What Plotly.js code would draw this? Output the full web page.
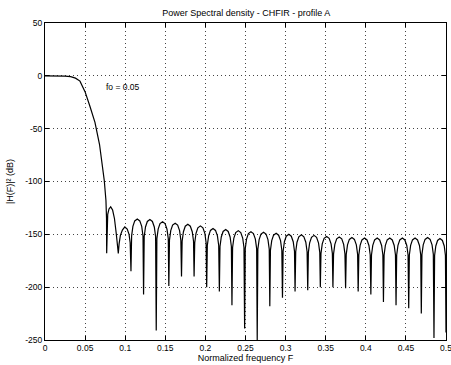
<!DOCTYPE html>
<html>
<head>
<meta charset="utf-8">
<script src="https://cdn.plot.ly/plotly-3.0.1.min.js"></script>
<style>html,body{margin:0;padding:0;background:#fff;}#chart{width:451px;height:365px;}</style>
</head>
<body>
<div id="chart"></div>
<script>
// Normalized frequency F
const freq = [
  0, 0.015, 0.025, 0.032, 0.038, 0.0436, 0.0499, 0.0561, 0.0623, 0.068, 0.0739, 0.076, 0.0767, 0.0769,
  0.0773, 0.0782, 0.0798, 0.0819, 0.0843, 0.0866, 0.0888, 0.0904, 0.0914,
  0.0924, 0.0940, 0.0965, 0.0995, 0.1025, 0.1048, 0.1062, 0.1068,
  0.1072, 0.1080, 0.1096, 0.1119, 0.1151, 0.1182, 0.1206, 0.1222,
  0.1229, 0.1237, 0.1253, 0.1276, 0.1308, 0.1339, 0.1363, 0.1379,
  0.1387, 0.1395, 0.1411, 0.1434, 0.1466, 0.1497, 0.1521, 0.1537,
  0.1544, 0.1552, 0.1568, 0.1591, 0.1623, 0.1654, 0.1678, 0.1694,
  0.1702, 0.1710, 0.1726, 0.1749, 0.1781, 0.1812, 0.1836, 0.1852,
  0.1859, 0.1867, 0.1883, 0.1906, 0.1938, 0.1969, 0.1993, 0.2009,
  0.2016, 0.2024, 0.2040, 0.2063, 0.2095, 0.2126, 0.2150, 0.2166,
  0.2174, 0.2182, 0.2198, 0.2221, 0.2253, 0.2284, 0.2308, 0.2324,
  0.2331, 0.2339, 0.2355, 0.2378, 0.2410, 0.2441, 0.2465, 0.2481,
  0.2489, 0.2497, 0.2513, 0.2536, 0.2568, 0.2599, 0.2623, 0.2639,
  0.2646, 0.2654, 0.2670, 0.2693, 0.2725, 0.2756, 0.2780, 0.2796,
  0.2803, 0.2811, 0.2827, 0.2850, 0.2882, 0.2913, 0.2937, 0.2953,
  0.2961, 0.2969, 0.2985, 0.3008, 0.3040, 0.3071, 0.3095, 0.3111,
  0.3118, 0.3126, 0.3142, 0.3165, 0.3197, 0.3228, 0.3252, 0.3268,
  0.3276, 0.3284, 0.3300, 0.3323, 0.3355, 0.3386, 0.3410, 0.3426,
  0.3433, 0.3441, 0.3457, 0.3480, 0.3512, 0.3543, 0.3567, 0.3583,
  0.3590, 0.3598, 0.3614, 0.3637, 0.3669, 0.3700, 0.3724, 0.3740,
  0.3748, 0.3756, 0.3772, 0.3795, 0.3827, 0.3858, 0.3882, 0.3898,
  0.3905, 0.3913, 0.3929, 0.3952, 0.3984, 0.4015, 0.4039, 0.4055,
  0.4063, 0.4071, 0.4087, 0.4110, 0.4142, 0.4173, 0.4197, 0.4213,
  0.4220, 0.4228, 0.4244, 0.4267, 0.4299, 0.4330, 0.4354, 0.4370,
  0.4377, 0.4385, 0.4401, 0.4424, 0.4456, 0.4487, 0.4511, 0.4527,
  0.4535, 0.4543, 0.4559, 0.4582, 0.4614, 0.4645, 0.4669, 0.4685,
  0.4692, 0.4700, 0.4716, 0.4739, 0.4771, 0.4802, 0.4826, 0.4842,
  0.4850, 0.4858, 0.4873, 0.4895, 0.4925, 0.4955, 0.4978, 0.4993,
  0.5000
];
// |H(F)|^2 in dB
const psdDb = [
  0, 0, -0.2, -0.8, -2.2, -5, -15, -29, -44, -65, -99, -118, -135, -168,
  -145, -131, -126, -124, -127, -135, -149, -161, -168,
  -159, -151, -146, -143, -145, -150, -158, -168,
  -185, -151.5, -142.5, -137.3, -135.5, -137.3, -142.5, -151.5,
  -207, -152, -143, -137.8, -136, -137.8, -143, -152,
  -241, -154, -145, -139.8, -138, -139.8, -145, -154,
  -199, -155.5, -146.5, -141.3, -139.5, -141.3, -146.5, -155.5,
  -190, -156.5, -147.5, -142.3, -140.5, -142.3, -147.5, -156.5,
  -190, -158, -149, -143.8, -142, -143.8, -149, -158,
  -200, -160.5, -151.5, -146.3, -144.5, -146.3, -151.5, -160.5,
  -204, -161.5, -152.5, -147.3, -145.5, -147.3, -152.5, -161.5,
  -217, -162.5, -153.5, -148.3, -146.5, -148.3, -153.5, -162.5,
  -239, -163.5, -154.5, -149.3, -147.5, -149.3, -154.5, -163.5,
  -250, -164, -155, -149.8, -148, -149.8, -155, -164,
  -218, -165, -156, -150.8, -149, -150.8, -156, -165,
  -210, -166, -157, -151.8, -150, -151.8, -157, -166,
  -204, -166.5, -157.5, -152.3, -150.5, -152.3, -157.5, -166.5,
  -203, -167, -158, -152.8, -151, -152.8, -158, -167,
  -200, -168, -159, -153.8, -152, -153.8, -159, -168,
  -200, -168.5, -159.5, -154.3, -152.5, -154.3, -159.5, -168.5,
  -201, -169, -160, -154.8, -153, -154.8, -160, -169,
  -204, -169.5, -160.5, -155.3, -153.5, -155.3, -160.5, -169.5,
  -207, -169.5, -160.5, -155.3, -153.5, -155.3, -160.5, -169.5,
  -214, -169.5, -160.5, -155.3, -153.5, -155.3, -160.5, -169.5,
  -217, -169.5, -160.5, -155.3, -153.5, -155.3, -160.5, -169.5,
  -220, -169.5, -160.5, -155.3, -153.5, -155.3, -160.5, -169.5,
  -225, -169, -160, -154.8, -153, -154.8, -160, -169,
  -248, -170, -161, -155.8, -154, -155.8, -161, -170,
  -243
];
const xTickVals = [0, 0.05, 0.1, 0.15, 0.2, 0.25, 0.3, 0.35, 0.4, 0.45, 0.5];
const xTickText = ["0", "0.05", "0.1", "0.15", "0.2", "0.25", "0.3", "0.35", "0.4", "0.45", "0.5"];
const yTickVals = [-250, -200, -150, -100, -50, 0, 50];
const yTickText = ["-250", "-200", "-150", "-100", "-50", "0", "50"];
const annotationText = "fo = 0.05";
const annotationX = 0.0736;
const annotationY = -10.5;

const font = "Liberation Sans, Arial, Helvetica, sans-serif";

const trace = {
  x: freq, y: psdDb, type: "scatter", mode: "lines",
  line: {color: "#000", width: 1.2},
  hoverinfo: "skip"
};

const axisCommon = {
  showline: true, linecolor: "#000", linewidth: 1, mirror: "ticks",
  ticks: "inside", ticklen: 4, tickcolor: "#000", tickwidth: 1,
  showgrid: true, gridcolor: "#444", griddash: "1px,3px", gridwidth: 1,
  zeroline: false, tickfont: {family: font, size: 8.5, color: "#000"},
  ticklabeloverflow: "allow", fixedrange: true
};

const layout = {
  width: 451, height: 365,
  margin: {l: 45, r: 5, t: 23, b: 25},
  paper_bgcolor: "#fff", plot_bgcolor: "#fff",
  showlegend: false,
  title: {text: "Power Spectral density - CHFIR - profile A", font: {family: font, size: 9, color: "#000"}, x: 0.546, xanchor: "center", y: 0.964, yanchor: "middle"},
  xaxis: Object.assign({}, axisCommon, {
    range: [0, 0.5], tickmode: "array", tickvals: xTickVals, ticktext: xTickText,
    title: {text: "Normalized frequency F", font: {family: font, size: 9, color: "#000"}, standoff: 2}
  }),
  yaxis: Object.assign({}, axisCommon, {
    range: [-250, 50], tickmode: "array", tickvals: yTickVals, ticktext: yTickText,
    title: {text: "|H(F)|² (dB)", font: {family: font, size: 9, color: "#000"}, standoff: 10}
  }),
  annotations: [{
    x: annotationX, y: annotationY, xref: "x", yref: "y", text: annotationText,
    showarrow: false, xanchor: "left", yanchor: "middle",
    font: {family: font, size: 8.5, color: "#000"}
  }]
};

Plotly.newPlot("chart", [trace], layout, {displayModeBar: false, staticPlot: true});
</script>
</body>
</html>
